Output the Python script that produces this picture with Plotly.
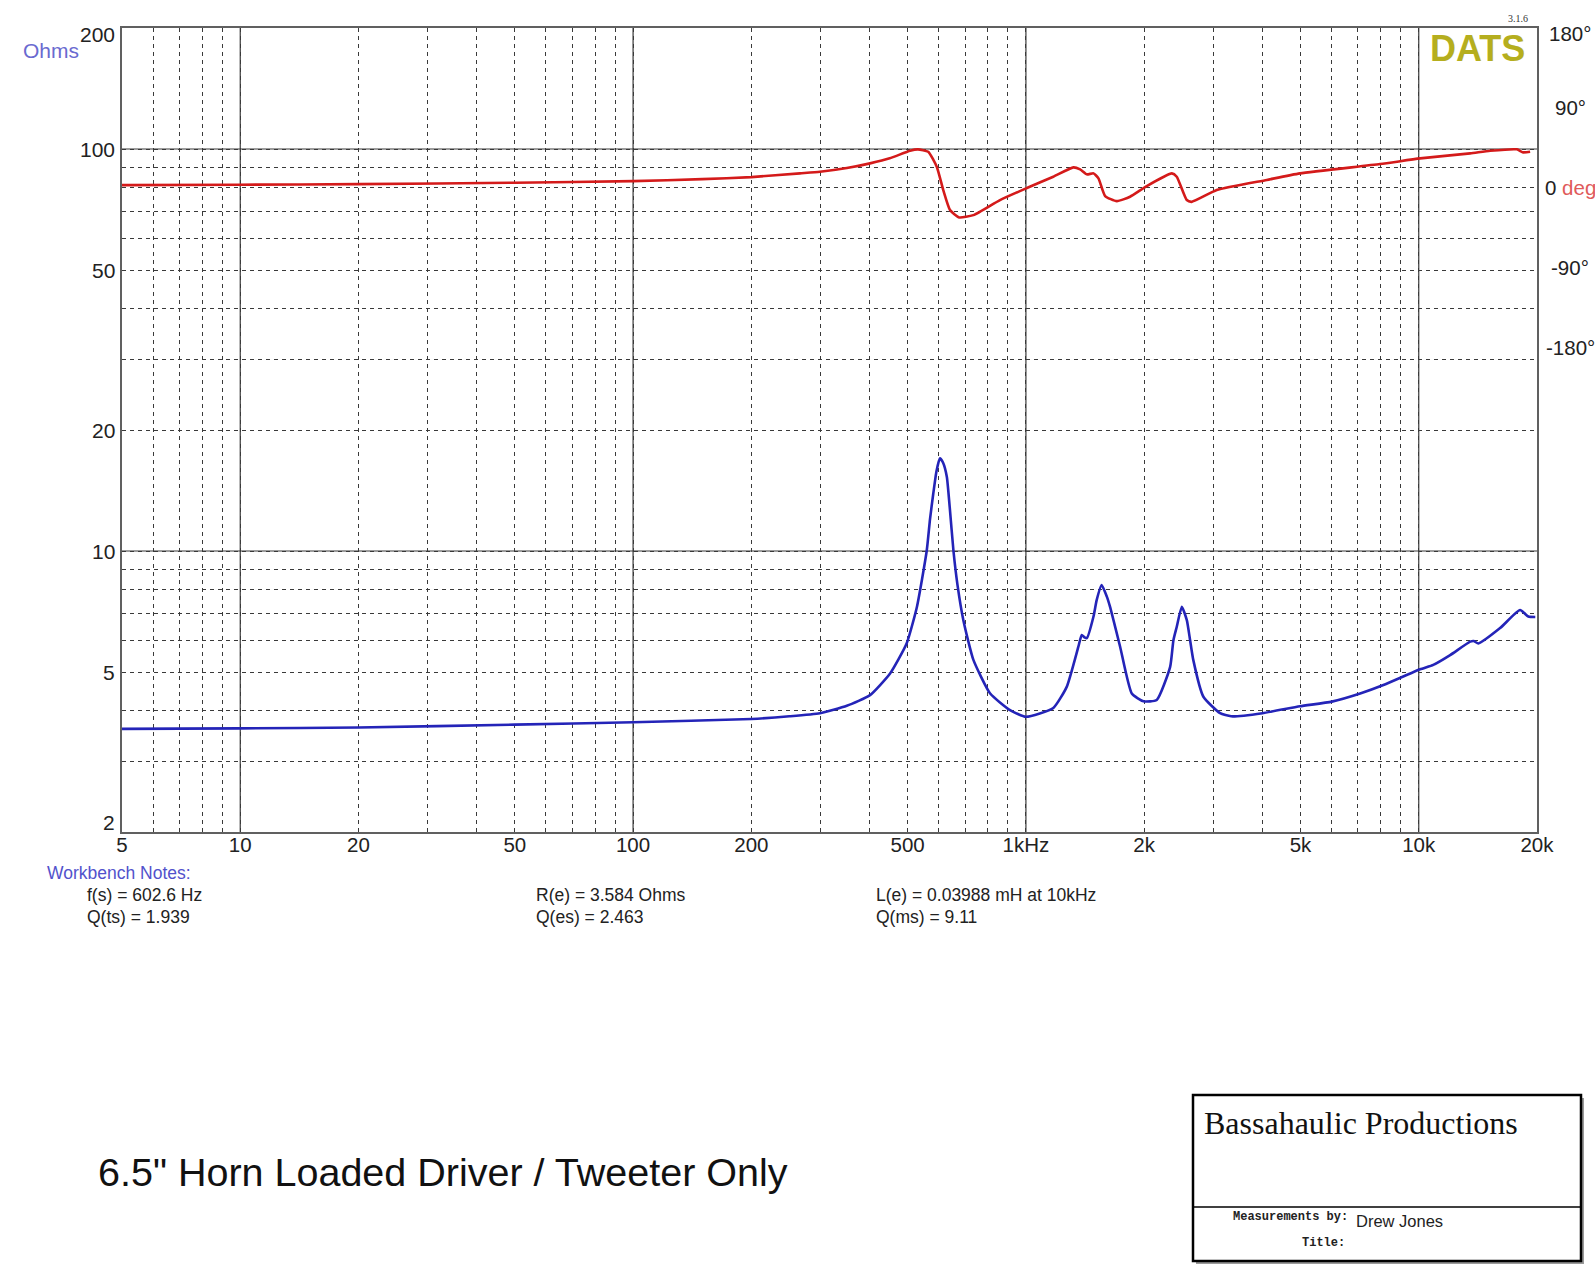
import math
import plotly.graph_objects as go

# ---------------- data ----------------
imp_freq = [5, 10, 20, 50, 100, 200, 250, 299, 350, 401, 451, 497, 528, 559, 570, 581, 592, 604,
            615, 629, 640, 654, 670, 693, 735, 811, 911, 1000, 1174, 1271, 1360, 1387, 1410, 1429,
            1486, 1514, 1559, 1607, 1637, 1737, 1860, 1991, 2153, 2329, 2374, 2421, 2494, 2568,
            2618, 2667, 2830, 3121, 3330, 4000, 4985, 6010, 7094, 8128, 10082, 10890, 12020, 13520,
            13800, 14190, 16110, 18110, 19010, 19800]
imp_ohms = [3.61, 3.62, 3.64, 3.70, 3.75, 3.82, 3.88, 3.95, 4.12, 4.38, 4.96, 5.89, 7.27, 10.0, 12.0,
            13.9, 15.8, 17.0, 16.6, 15.3, 12.8, 10.0, 8.2, 6.73, 5.36, 4.42, 4.02, 3.87, 4.07, 4.6,
            5.78, 6.18, 6.1, 6.07, 6.87, 7.55, 8.23, 7.7, 7.27, 5.78, 4.42, 4.23, 4.26, 5.15, 6.0,
            6.48, 7.27, 6.73, 6.0, 5.36, 4.34, 3.95, 3.88, 3.95, 4.11, 4.22, 4.42, 4.64, 5.08, 5.21,
            5.51, 5.95, 5.97, 5.89, 6.43, 7.13, 6.87, 6.85]

ph_freq = [5, 10, 20, 50, 100, 150, 200, 266, 299, 350, 401, 450, 507, 531, 564, 593, 616, 641, 676,
           735, 859, 1009, 1174, 1321, 1374, 1429, 1486, 1530, 1591, 1704, 1841, 2031, 2352, 2421,
           2567, 2643, 3061, 4103, 4985, 7972, 10082, 13520, 15200, 17770, 18440, 19210]
ph_deg = [2.8, 3.2, 3.9, 5.5, 7.3, 9.5, 11.8, 16.0, 17.8, 22.0, 27.3, 33.0, 41.5, 43.1, 40.4, 23.5,
          -2.8, -25.4, -33.7, -31.1, -14.1, -0.25, 12.2, 22.8, 20.5, 14.9, 16.0, 10.4, -9.6, -15.3,
          -10.4, 1.7, 16.0, 12.2, -14.1, -16.1, -2.8, 8.6, 16.0, 26.5, 32.9, 38.6, 41.5, 43.1, 39.7,
          40.4]

x_tickvals = [5, 10, 20, 50, 100, 200, 500, 1000, 2000, 5000, 10000, 20000]
x_ticktext = ["5", "10", "20", "50", "100", "200", "500", "1kHz", "2k", "5k", "10k", "20k"]
x_minor = [6, 7, 8, 9, 30, 40, 60, 70, 80, 90, 300, 400, 600, 700, 800, 900,
           3000, 4000, 6000, 7000, 8000, 9000]
x_major_solid = [10, 100, 1000, 10000]

y_tickvals = [2, 5, 10, 20, 50, 100, 200]
y_ticktext = ["2", "5", "10", "20", "50", "100", "200"]
y_minor = [3, 4, 6, 7, 8, 9, 30, 40, 60, 70, 80, 90]
y_major_solid = [10, 100]

ph_tickvals = [180, 90, 0, -90, -180]
ph_ticktext = ["180°", "90°", "0 <span style='color:#e05a5a'>deg</span>", "-90°", "-180°"]

notes = [
    ("f(s) = 602.6 Hz", 85, 895), ("Q(ts) = 1.939", 85, 917),
    ("R(e) = 3.584 Ohms", 534, 895), ("Q(es) = 2.463", 534, 917),
    ("L(e) = 0.03988 mH at 10kHz", 874, 895), ("Q(ms) = 9.11", 874, 917),
]

# ---------------- layout geometry (page pixel coords) ----------------
W, H = 1595, 1271
L, R, T, B = 122, 1537, 28, 832
SANS = "Liberation Sans, Arial, sans-serif"
Y_LO, Y_HI = math.log10(y_tickvals[0]), math.log10(y_tickvals[-1])
X_LO, X_HI = math.log10(x_tickvals[0]), math.log10(x_tickvals[-1])


def px(x):
    return (x - L) / (R - L)


def py(y):
    return (B - y) / (B - T)


fig = go.Figure()
fig.add_trace(go.Scatter(x=ph_freq, y=ph_deg, yaxis="y2", mode="lines",
                         line=dict(color="#d41a1a", width=2.6, shape="spline", smoothing=0.5),
                         hoverinfo="x+y", showlegend=False))
fig.add_trace(go.Scatter(x=imp_freq, y=imp_ohms, mode="lines",
                         line=dict(color="#2424b8", width=2.6, shape="spline", smoothing=0.5),
                         hoverinfo="x+y", showlegend=False))

grid = dict(gridcolor="#3a3a3a", gridwidth=1, griddash="4px,4px")

fig.update_layout(
    width=W, height=H, autosize=False,
    margin=dict(l=L, r=W - R, t=T, b=H - B, pad=0),
    paper_bgcolor="white", plot_bgcolor="white",
    font=dict(family=SANS, color="#222"),
    xaxis=dict(type="log", range=[X_LO, X_HI], tickmode="array",
               tickvals=x_tickvals, ticktext=x_ticktext, showgrid=True, **grid,
               minor=dict(tickvals=x_minor, showgrid=True, **grid, ticks=""),
               ticks="", tickfont=dict(size=20.5, color="#222"), automargin=False,
               showline=True, linecolor="#606060", linewidth=1.5, mirror=True,
               zeroline=False, ticklabelstandoff=-6),
    yaxis=dict(type="log", range=[Y_LO, Y_HI], tickmode="array",
               tickvals=y_tickvals, showticklabels=False, showgrid=True, **grid,
               minor=dict(tickvals=y_minor, showgrid=True, **grid, ticks=""),
               ticks="", automargin=False,
               showline=True, linecolor="#606060", linewidth=1.5, mirror=True,
               zeroline=False),
    yaxis2=dict(overlaying="y", side="right", range=[-727, 180], tickmode="array",
                tickvals=ph_tickvals, showticklabels=False, showgrid=False, zeroline=False,
                ticks="", showline=False, automargin=False),
)

shapes = []
for v in x_major_solid:
    shapes.append(dict(type="line", xref="x", yref="paper", x0=v, x1=v, y0=0, y1=1,
                       line=dict(color="#3a3a3a", width=1.2), layer="below"))
for v in y_major_solid:
    shapes.append(dict(type="line", xref="paper", yref="y", x0=0, x1=1, y0=v, y1=v,
                       line=dict(color="#3a3a3a", width=1.2), layer="below"))

# title block box (shadow + frame + divider)
shapes.append(dict(type="rect", xref="paper", yref="paper",
                   x0=px(1196), x1=px(1584), y0=py(1264), y1=py(1098),
                   fillcolor="#9a9a9a", line=dict(width=0), layer="above"))
shapes.append(dict(type="rect", xref="paper", yref="paper",
                   x0=px(1193), x1=px(1581), y0=py(1261), y1=py(1095),
                   fillcolor="white", line=dict(color="black", width=2.5), layer="above"))
shapes.append(dict(type="line", xref="paper", yref="paper",
                   x0=px(1193), x1=px(1581), y0=py(1207), y1=py(1207),
                   line=dict(color="black", width=1.5), layer="above"))
fig.update_layout(shapes=shapes)

ann = []


def add(text, x, y, size, color="#222", xanchor="left", family=SANS, yanchor="middle"):
    ann.append(dict(text=text, x=px(x), y=py(y), xref="paper", yref="paper",
                    xanchor=xanchor, yanchor=yanchor, showarrow=False,
                    font=dict(size=size, color=color, family=family)))


# left-hand impedance scale labels (log axis: annotation y is log10 of the value,
# kept a hair inside the range so the edge labels are not culled;
# edge labels nudged inside, as in the original)
for v, t in zip(y_tickvals, y_ticktext):
    yv = min(max(math.log10(v), Y_LO + 1e-6), Y_HI - 1e-6)
    shift = 10 if v == y_tickvals[0] else (-6 if v == y_tickvals[-1] else 0)
    ann.append(dict(text=t, x=px(117), y=yv, xref="paper", yref="y",
                    xanchor="right", yanchor="middle", showarrow=False, yshift=shift,
                    font=dict(size=21, color="#222", family=SANS)))

# right-hand phase scale labels (centred, placed on the phase axis values)
for v, t in zip(ph_tickvals, ph_ticktext):
    yv = min(v, 180 - 1e-6)
    ann.append(dict(text=t, x=px(1570), y=yv, xref="paper", yref="y2",
                    xanchor="center", yanchor="middle", showarrow=False,
                    yshift=-5 if v == 180 else 0,
                    font=dict(size=20.5, color="#222", family=SANS)))

add("Ohms", 21, 51, 21, color="#6a6ad0")
add("<b>DATS</b>", 1428, 48, 36, color="#b5ae1e")
add("3.1.6", 1518, 18, 10, color="#333", xanchor="center", family="Liberation Serif, serif")
add("Workbench Notes:", 45, 873, 17.5, color="#5252cc")
for t, x, y in notes:
    add(t, x, y, 17.5)
add("6.5\" Horn Loaded Driver / Tweeter Only", 96, 1172, 39.5, color="#111")
add("Bassahaulic Productions", 1202, 1123, 32, color="#111", family="Liberation Serif, Times New Roman, serif")
add("<b>Measurements by:</b>", 1350, 1217, 12, color="#222", xanchor="right",
    family="Liberation Mono, Courier New, monospace")
add("Drew Jones", 1354, 1221, 16.5, color="#222")
add("<b>Title:</b>", 1347, 1243, 12, color="#222", xanchor="right",
    family="Liberation Mono, Courier New, monospace")
fig.update_layout(annotations=ann)

# page styling: remove the default body margin so the figure fills the window exactly
fig.write_html("out.html", config={"displayModeBar": False},
               post_script="document.body.style.margin='0';document.body.style.overflow='hidden';")
